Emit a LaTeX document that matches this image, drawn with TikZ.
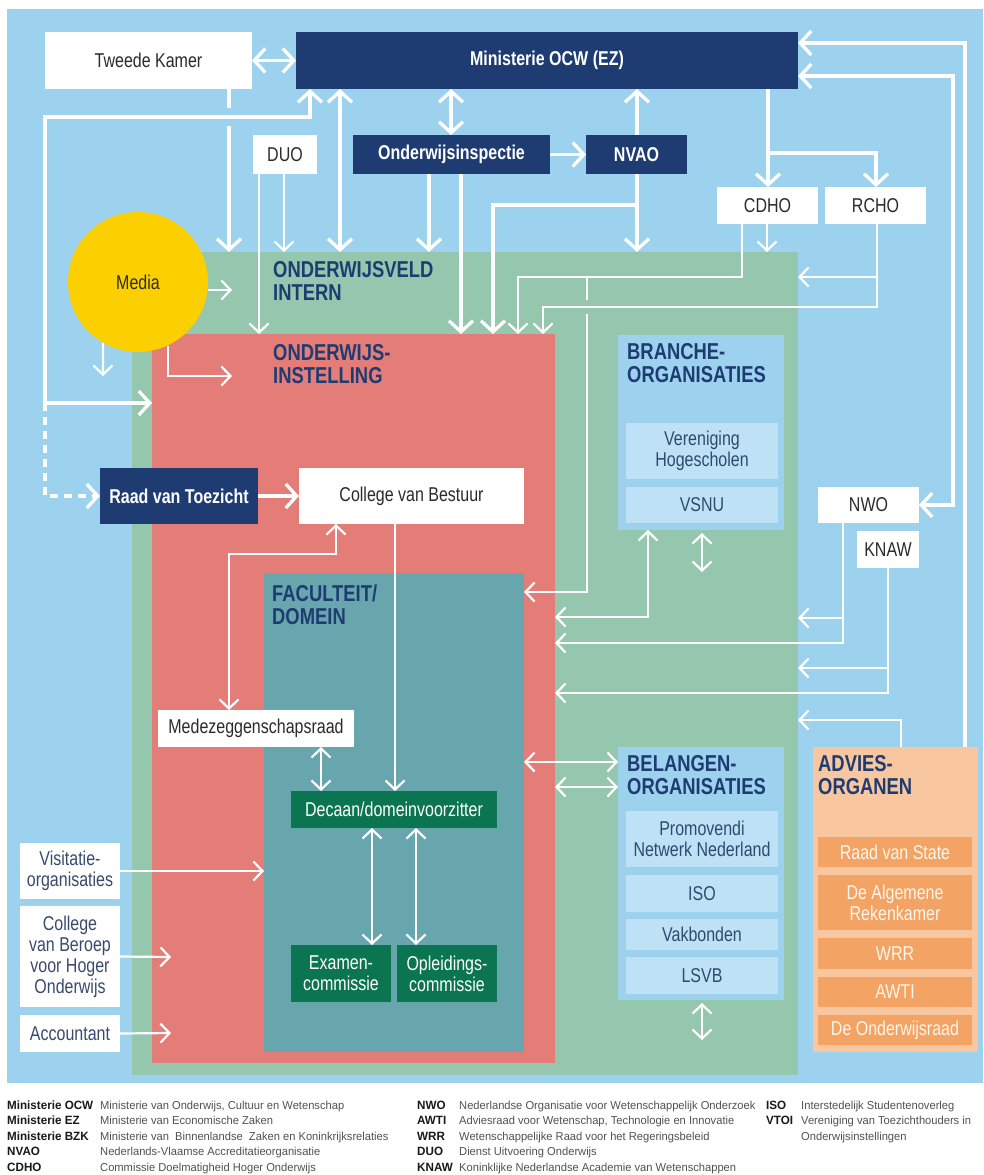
\documentclass[tikz,border=0pt]{standalone}
\usepackage{fontspec}
\setmainfont{Liberation Sans}[FakeStretch=0.8]
\newfontfamily\lgfont{Liberation Sans}[FakeStretch=0.97]
\usetikzlibrary{arrows.meta}
\definecolor{bgblue}{HTML}{9CD2EE}
\definecolor{fgreen}{HTML}{95C7AE}
\definecolor{fred}{HTML}{E47C78}
\definecolor{fteal}{HTML}{68A6AE}
\definecolor{navy}{HTML}{1E3C72}
\definecolor{dgreen}{HTML}{0A7550}
\definecolor{myellow}{HTML}{FCD000}
\definecolor{lblue}{HTML}{BFE1F5}
\definecolor{peach}{HTML}{F8C7A0}
\definecolor{orng}{HTML}{F3A363}
\definecolor{txtgray}{HTML}{2B2B2B}
\definecolor{slate}{HTML}{3A4A6E}
\definecolor{lbtext}{HTML}{2F4A70}
\definecolor{otext}{HTML}{FFF6EC}
\newcommand\lbl{\fontsize{20}{21}\selectfont}
\newcommand\ttl{\fontsize{23}{23}\selectfont\bfseries}
\tikzset{
 base/.style={anchor=north west, inner sep=0pt, outer sep=0pt, align=center, font=\lbl},
 wbox/.style={base, fill=white, text=txtgray},
 dbox/.style={base, fill=navy, text=white, font=\lbl\bfseries},
 gbox/.style={base, fill=dgreen, text=white},
 lbbox/.style={base, fill=lblue, text=lbtext},
 obox/.style={base, fill=orng, text=otext},
 sbox/.style={base, fill=white, text=slate},
 region/.style={anchor=north west, inner sep=0pt, outer sep=0pt},
 ttlnode/.style={anchor=base west, inner sep=0pt, font=\ttl, text=navy},
 thk/.style={draw=white, line width=3.3pt, >={Straight Barb[length=11pt,width=24pt]}},
 thn/.style={draw=white, line width=2.2pt, >={Straight Barb[length=9pt,width=19pt]}},
 lgab/.style={anchor=base west, inner sep=0pt, font=\lgfont\fontsize{12}{13}\selectfont\bfseries, text=black!90},
 lgds/.style={anchor=base west, inner sep=0pt, font=\lgfont\fontsize{11.5}{13}\selectfont, text=black!68},
}
\begin{document}
\begin{tikzpicture}[x=1pt,y=-1pt]
\useasboundingbox (0,0) rectangle (983,1175);
\fill[white] (0,0) rectangle (983,1175);
\fill[bgblue] (7,9) rectangle (983,1083);
% regions
\node[region, fill=fgreen, minimum width=666pt, minimum height=823pt] (veld) at (132,252) {};
\node[region, fill=fred, minimum width=403pt, minimum height=729pt] (inst) at (152,334) {};
\node[region, fill=fteal, minimum width=260pt, minimum height=479pt] (fac) at (264,573) {};
\node[region, fill=bgblue, minimum width=166pt, minimum height=195pt] (branche) at (618,335) {};
\node[region, fill=bgblue, minimum width=166pt, minimum height=253pt] (belang) at (618,747) {};
\node[region, fill=peach, minimum width=165pt, minimum height=305pt] (advies) at (813,747) {};
% titles
\node[ttlnode] (t1a) at (273,277) {ONDERWIJSVELD};
\node[ttlnode] (t1b) at (273,300) {INTERN};
\node[ttlnode] (t2a) at (273,360) {ONDERWIJS-};
\node[ttlnode] (t2b) at (273,383) {INSTELLING};
\node[ttlnode] (t3a) at (272,601) {FACULTEIT/};
\node[ttlnode] (t3b) at (272,624) {DOMEIN};
\node[ttlnode] (t4a) at (627,359) {BRANCHE-};
\node[ttlnode] (t4b) at (627,382) {ORGANISATIES};
\node[ttlnode] (t5a) at (627,771) {BELANGEN-};
\node[ttlnode] (t5b) at (627,794) {ORGANISATIES};
\node[ttlnode] (t6a) at (818,771) {ADVIES-};
\node[ttlnode] (t6b) at (818,794) {ORGANEN};
% media
\node[circle, fill=myellow, minimum size=140pt, inner sep=0pt, font=\lbl, text=txtgray] (media) at (138,282) {Media};
% boxes
\node[wbox, minimum width=207pt, minimum height=57pt] (tk) at (45,32) {Tweede Kamer};
\node[dbox, minimum width=502pt, minimum height=57pt] (ocw) at (296,32) {Ministerie OCW (EZ)};
\node[wbox, minimum width=64pt, minimum height=39pt] (duo) at (253,135) {DUO};
\node[dbox, minimum width=197pt, minimum height=39pt] (insp) at (353,135) {Onderwijsinspectie};
\node[dbox, minimum width=101pt, minimum height=39pt] (nvao) at (586,135) {NVAO};
\node[wbox, minimum width=101pt, minimum height=37pt] (cdho) at (717,187) {CDHO};
\node[wbox, minimum width=101pt, minimum height=37pt] (rcho) at (825,187) {RCHO};
\node[dbox, minimum width=158pt, minimum height=56pt] (rvt) at (100,468) {Raad van Toezicht};
\node[wbox, minimum width=225pt, minimum height=56pt] (cvb) at (299,468) {College van Bestuur};
\node[wbox, minimum width=196pt, minimum height=37pt] (mzr) at (158,710) {Medezeggenschapsraad};
\node[gbox, minimum width=206pt, minimum height=37pt] (dec) at (291,791) {Decaan/domeinvoorzitter};
\node[gbox, minimum width=100pt, minimum height=57pt] (exa) at (291,945) {Examen-\\commissie};
\node[gbox, minimum width=100pt, minimum height=57pt] (opl) at (397,945) {Opleidings-\\commissie};
\node[sbox, minimum width=100pt, minimum height=56pt] (vis) at (20,843) {Visitatie-\\organisaties};
\node[sbox, minimum width=100pt, minimum height=101pt] (cbho) at (20,906) {College\\van Beroep\\voor Hoger\\Onderwijs};
\node[sbox, minimum width=100pt, minimum height=37pt] (acc) at (20,1015) {Accountant};
\node[lbbox, minimum width=152pt, minimum height=56pt] (vh) at (626,423) {Vereniging\\Hogescholen};
\node[lbbox, minimum width=152pt, minimum height=36pt] (vsnu) at (626,487) {VSNU};
\node[wbox, minimum width=101pt, minimum height=36pt] (nwo) at (818,487) {NWO};
\node[wbox, minimum width=62pt, minimum height=37pt] (knaw) at (857,531) {KNAW};
\node[lbbox, minimum width=152pt, minimum height=56pt] (pnn) at (626,811) {Promovendi\\Netwerk Nederland};
\node[lbbox, minimum width=152pt, minimum height=37pt] (iso) at (626,875) {ISO};
\node[lbbox, minimum width=152pt, minimum height=31pt] (vak) at (626,919) {Vakbonden};
\node[lbbox, minimum width=152pt, minimum height=37pt] (lsvb) at (626,957) {LSVB};
\node[obox, minimum width=154pt, minimum height=30pt] (rvs) at (818,837) {Raad van State};
\node[obox, minimum width=154pt, minimum height=55pt] (arek) at (818,875) {De Algemene\\Rekenkamer};
\node[obox, minimum width=154pt, minimum height=31pt] (wrr) at (818,938) {WRR};
\node[obox, minimum width=154pt, minimum height=30pt] (awti) at (818,977) {AWTI};
\node[obox, minimum width=154pt, minimum height=30pt] (owr) at (818,1015) {De Onderwijsraad};
% free coordinates
\coordinate (mva) at (232,290);
\coordinate (mvi) at (232,376);
\coordinate (mvd) at (103,376);
\coordinate (lp) at (45,403);
\coordinate (sa1) at (702,533);
\coordinate (sa2) at (702,572);
\coordinate (sb1) at (702,1003);
\coordinate (sb2) at (702,1040);
\coordinate (cba) at (171,957);
\coordinate (aca) at (171,1033);
% connectors top
\draw[thk,<->] (tk.east) -- (ocw.west);
\draw[thk,->] (229,0 |- tk.south) -- (229,0 |- veld.north);
\fill[bgblue] (223,108) rectangle (235,126);
\draw[thk,<->] (310,0 |- ocw.south) -- (310,117) -- (45,117) -- (lp) -- (lp -| inst.west);
\draw[thk,->,dash pattern=on 8pt off 6pt] (lp) -- (45,496) -- (45,496 -| rvt.west);
\draw[thk,<->] (340,0 |- ocw.south) -- (340,0 |- veld.north);
\draw[thn,->] (259,0 |- duo.south) -- (259,0 |- inst.north);
\draw[thn,->] (284,0 |- duo.south) -- (284,0 |- veld.north);
\draw[thk,<->] (451,0 |- ocw.south) -- (451,0 |- insp.north);
\draw[thk,->] (insp.east) -- (nvao.west);
\draw[thk,->] (429,0 |- insp.south) -- (429,0 |- veld.north);
\draw[thk,->] (461,0 |- insp.south) -- (461,0 |- inst.north);
\draw[thk,->] (637,0 |- nvao.north) -- (637,0 |- ocw.south);
\draw[thk,->] (637,0 |- nvao.south) -- (637,0 |- veld.north);
\draw[thk,->] (637,0 |- nvao.south) -- (637,205) -- (493,205) -- (493,0 |- inst.north);
\draw[thk,->] (768,0 |- ocw.south) -- (768,0 |- cdho.north);
\draw[thk,->] (768,0 |- ocw.south) -- (768,153) -- (876,153) -- (876,0 |- rcho.north);
\draw[thn,->] (767,0 |- cdho.south) -- (767,0 |- veld.north);
\draw[thn,->] (742,0 |- cdho.south) -- (742,277) -- (518,277) -- (518,0 |- inst.north);
\draw[thn,->] (742,0 |- cdho.south) -- (742,277) -- (587,277) -- (587,592) -- (587,592 -| fac.east);
\fill[fgreen] (582,300) rectangle (593,314);
\draw[thn,->] (877,0 |- rcho.south) -- (877,307) -- (543,307) -- (543,0 |- inst.north);
\draw[thn,->] (877,0 |- rcho.south) -- (877,277) -- (877,277 -| veld.east);
\draw[thk,<->] (nwo.east) -- (953,505) -- (953,76) -- (ocw.east |- 0,76);
\draw[thk,->] (965,0 |- advies.north) -- (965,43) -- (ocw.east |- 0,43);
\draw[thn,->] (843,0 |- nwo.south) -- (843,618) -- (843,618 -| veld.east);
\draw[thn,->] (843,0 |- nwo.south) -- (843,643) -- (843,643 -| inst.east);
\draw[thn,->] (888,0 |- knaw.south) -- (888,668) -- (888,668 -| veld.east);
\draw[thn,->] (888,0 |- knaw.south) -- (888,693) -- (888,693 -| inst.east);
\draw[thn,->] (901,0 |- advies.north) -- (901,720) -- (901,720 -| veld.east);
\draw[thn,<->] (648,0 |- branche.south) -- (648,617) -- (648,617 -| inst.east);
\draw[thn,<->] (sa1) -- (sa2);
\draw[thn,<->] (sb1) -- (sb2);
\draw[thn,<->] (fac.east |- 0,762) -- (belang.west |- 0,762);
\draw[thn,<->] (inst.east |- 0,787) -- (belang.west |- 0,787);
% media
\draw[thn,->] ([yshift=-8pt]media.east) -- (mva);
\draw[thn,->] (media.240) -- (mvd);
\draw[thn,->] (media.295) -- (media.295 |- mvi) -- (mvi);
% institution internals
\draw[thk,->] (rvt.east) -- (cvb.west);
\draw[thn,->] (395,0 |- cvb.south) -- (395,0 |- dec.north);
\draw[thn,<->] (229,0 |- mzr.north) -- (229,554) -- (336,554) -- (336,0 |- cvb.south);
\draw[thn,<->] (321,0 |- mzr.south) -- (321,0 |- dec.north);
\draw[thn,<->] (372,0 |- dec.south) -- (372,0 |- exa.north);
\draw[thn,<->] (416,0 |- dec.south) -- (416,0 |- opl.north);
\draw[thn,->] (vis.east) -- (vis.east -| fac.west);
\draw[thn,->] (cbho.east) -- (cba);
\draw[thn,->] (acc.east) -- (aca);
% legend
\node[lgab] (la1) at (7,1109) {Ministerie OCW};
\node[lgab] (la2) at (7,1124.5) {Ministerie EZ};
\node[lgab] (la3) at (7,1140) {Ministerie BZK};
\node[lgab] (la4) at (7,1155.5) {NVAO};
\node[lgab] (la5) at (7,1171) {CDHO};
\node[lgds] (ld1) at (100,1109) {Ministerie van Onderwijs, Cultuur en Wetenschap};
\node[lgds] (ld2) at (100,1124.5) {Ministerie van Economische Zaken};
\node[lgds] (ld3) at (100,1140) {Ministerie van \ Binnenlandse \ Zaken en Koninkrijksrelaties};
\node[lgds] (ld4) at (100,1155.5) {Nederlands-Vlaamse Accreditatieorganisatie};
\node[lgds] (ld5) at (100,1171) {Commissie Doelmatigheid Hoger Onderwijs};
\node[lgab] (lb1) at (417,1109) {NWO};
\node[lgab] (lb2) at (417,1124.5) {AWTI};
\node[lgab] (lb3) at (417,1140) {WRR};
\node[lgab] (lb4) at (417,1155.5) {DUO};
\node[lgab] (lb5) at (417,1171) {KNAW};
\node[lgds] (le1) at (459,1109) {Nederlandse Organisatie voor Wetenschappelijk Onderzoek};
\node[lgds] (le2) at (459,1124.5) {Adviesraad voor Wetenschap, Technologie en Innovatie};
\node[lgds] (le3) at (459,1140) {Wetenschappelijke Raad voor het Regeringsbeleid};
\node[lgds] (le4) at (459,1155.5) {Dienst Uitvoering Onderwijs};
\node[lgds] (le5) at (459,1171) {Koninklijke Nederlandse Academie van Wetenschappen};
\node[lgab] (lc1) at (766,1109) {ISO};
\node[lgab] (lc2) at (766,1124.5) {VTOI};
\node[lgds] (lf1) at (801,1109) {Interstedelijk Studentenoverleg};
\node[lgds] (lf2) at (801,1124.5) {Vereniging van Toezichthouders in};
\node[lgds] (lf3) at (801,1140) {Onderwijsinstellingen};
\end{tikzpicture}
\end{document}
